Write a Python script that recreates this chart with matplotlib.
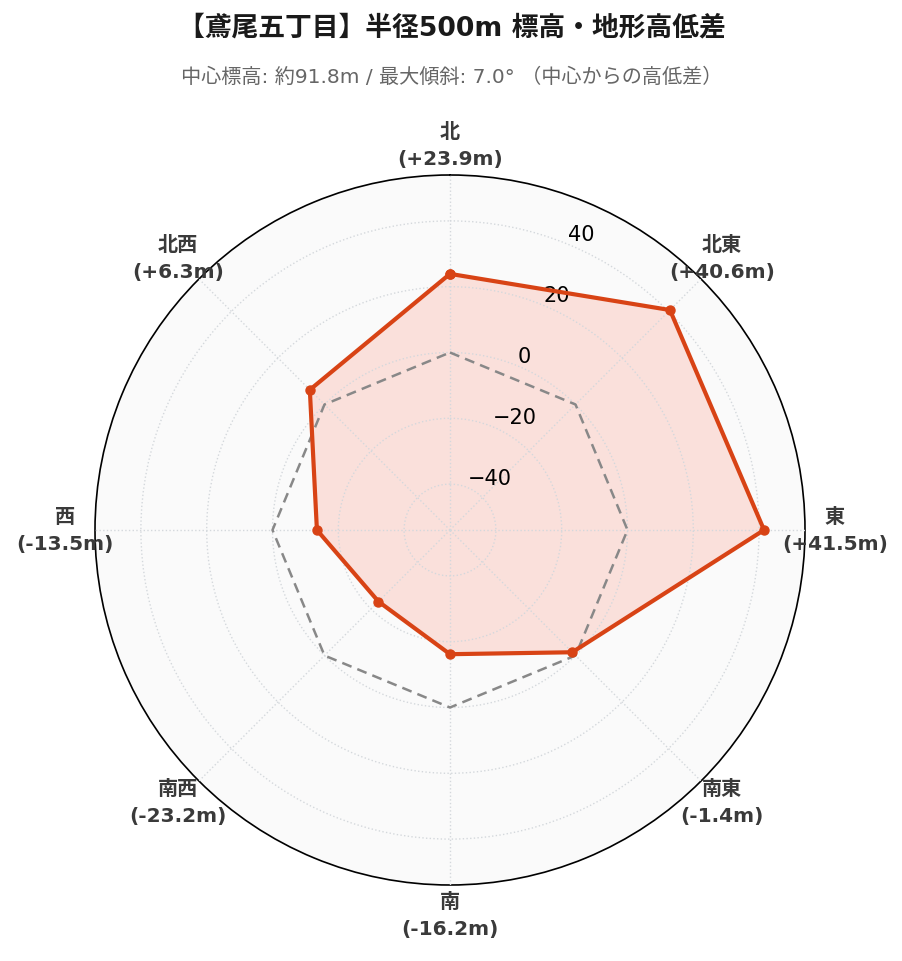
import numpy as np
import matplotlib.pyplot as plt

plt.rcParams['font.family'] = ['DejaVu Sans', 'Noto Sans CJK JP']

directions = ['北', '北東', '東', '南東', '南', '南西', '西', '北西']
diffs = [23.9, 40.6, 41.5, -1.4, -16.2, -23.2, -13.5, 6.3]
rticks = [-40, -20, 0, 20, 40]

title = '【鳶尾五丁目】半径500m 標高・地形高低差'
subtitle = '中心標高: 約91.8m / 最大傾斜: 7.0° （中心からの高低差）'

n = len(directions)
angles = np.linspace(0, 2 * np.pi, n, endpoint=False)
ang_c = np.append(angles, angles[0])
vals_c = np.append(diffs, diffs[0])
lim = max(abs(v) for v in diffs) * 1.3

fig = plt.figure(figsize=(9.03, 9.62), dpi=100)
ax = fig.add_axes([95 / 903, 76 / 962, 710 / 903, 710 / 962], projection='polar')
ax.set_theta_offset(np.pi / 2)
ax.set_theta_direction(-1)
ax.set_facecolor('#fafafa')
ax.set_ylim(-lim, lim)
ax.set_axisbelow(False)

ax.plot(ang_c, np.zeros_like(ang_c), color='#888888', lw=1.8, ls=(0, (4, 2.5)), zorder=3)
ax.fill(ang_c, vals_c, color='#ff5030', alpha=0.15, zorder=2)
ax.plot(ang_c, vals_c, color='#d84315', lw=3, marker='o', ms=6.5, zorder=4)

ax.set_xticks(angles)
labels = [f'{d}\n({v:+.1f}m)' for d, v in zip(directions, diffs)]
ax.set_xticklabels(labels, fontsize=14.5, fontweight='bold', color='#3a3a3a', linespacing=1.55)
ax.tick_params(axis='x', pad=11)
ax.set_yticks(rticks)
ax.set_yticklabels([f'{t}'.replace('-', '\u2212') for t in rticks], fontsize=15)
ax.set_rlabel_position(22.5)
ax.grid(color='#d4d8dc', ls=':', lw=1)
ax.spines['polar'].set_color('black')
ax.spines['polar'].set_linewidth(1.2)

fig.text(0.5, 1 - 28 / 962, title, ha='center', va='center', fontsize=19.3, fontweight='bold',
         color='#1a1a1a')
fig.text(0.5, 1 - 77 / 962, subtitle, ha='center', va='center', fontsize=14.5, color='#666666')

fig.savefig('out.png', dpi=100)
